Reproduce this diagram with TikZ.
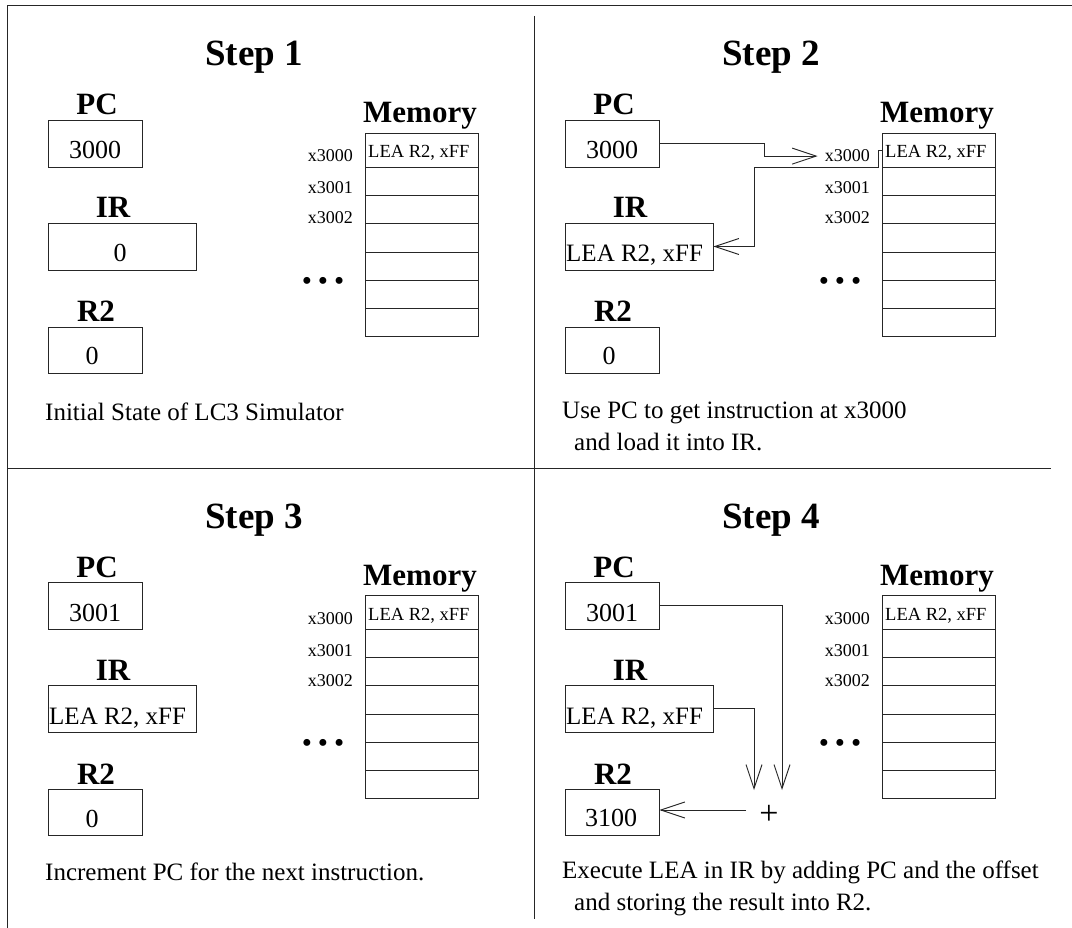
\documentclass[tikz,border=0pt]{standalone}
\usepackage{fontspec}
\setmainfont{Liberation Serif}
\usetikzlibrary{arrows.meta}

\tikzset{
  ln/.style={line width=0.9pt, draw=black!85},
  regbox/.style={ln, rectangle, inner sep=0pt},
  cell/.style={ln, rectangle, inner sep=0pt, minimum width=113pt},
  ttl/.style={inner sep=0pt, anchor=base, font=\fontsize{37}{40}\selectfont\bfseries},
  lbl/.style={inner sep=0pt, anchor=base, font=\fontsize{31}{34}\selectfont\bfseries},
  val/.style={inner sep=0pt, anchor=base, font=\fontsize{26}{30}\selectfont},
  irtxt/.style={inner sep=0pt, anchor=base west, font=\fontsize{25}{30}\selectfont},
  addr/.style={inner sep=0pt, anchor=base east, font=\fontsize{18}{20}\selectfont},
  memtxt/.style={inner sep=0pt, anchor=base west, font=\fontsize{18.5}{20}\selectfont},
  desc/.style={inner sep=0pt, anchor=base west, font=\fontsize{25}{30}\selectfont},
  dotsrow/.style={inner sep=0pt, font=\fontsize{29}{29}\selectfont},
  plussign/.style={inner sep=0pt, anchor=base, font=\fontsize{34}{34}\selectfont},
  arr/.style={ln, -{Straight Barb[length=24pt,width=16pt]}},
}

% Common contents of one step: title, registers and memory column
\newcommand\lcframe[2]{%
  \node[ttl] (#1title) at (254,66) {#2};
  \node[lbl] (#1pcl) at (97,115) {PC};
  \node[regbox, draw, minimum width=94pt, minimum height=47pt] (#1pc) at (95,143.5) {};
  \node[lbl] (#1irl) at (113,218) {IR};
  \node[regbox, draw, minimum width=148pt, minimum height=47pt] (#1ir) at (122,246.5) {};
  \node[lbl] (#1r2l) at (96,322) {R2};
  \node[regbox, draw, minimum width=94pt, minimum height=46pt] (#1r2) at (95,350) {};
  \node[lbl] (#1meml) at (420,123) {Memory};
  \node[cell, draw, minimum height=34pt] (#1m1) at (421.5,150) {};
  \node[cell, draw, minimum height=28pt] (#1m2) at (421.5,181) {};
  \node[cell, draw, minimum height=28pt] (#1m3) at (421.5,209) {};
  \node[cell, draw, minimum height=29pt] (#1m4) at (421.5,237.5) {};
  \node[cell, draw, minimum height=28pt] (#1m5) at (421.5,266) {};
  \node[cell, draw, minimum height=28pt] (#1m6) at (421.5,294) {};
  \node[cell, draw, minimum height=28pt] (#1m7) at (421.5,322) {};
  \node[memtxt] (#1mt) at (368,158) {LEA R2, xFF};
  \node[addr] (#1a0) at (353,162) {x3000};
  \node[addr] (#1a1) at (353,194) {x3001};
  \node[addr] (#1a2) at (353,224) {x3002};
  \node[dotsrow] (#1dots) at (323,284) {•\hspace{6pt}•\hspace{6pt}•};
}

\begin{document}
\begin{tikzpicture}[x=1pt,y=-1pt]
\useasboundingbox (0,0) rectangle (1072,928);
\fill[white] (0,0) rectangle (1072,928);

% outer frame and quadrant dividers
\draw[ln] (1072,5) -- (7,5) -- (7,928);
\draw[ln] (534,16) -- (534,919);
\draw[ln] (7,468) -- (1051,468);

% Step 1
\begin{scope}
  \lcframe{s1}{Step 1}
  \node[val] (s1pcv) at (95,159) {3000};
  \node[val] (s1irv) at (120,262) {0};
  \node[val] (s1r2v) at (92,365) {0};
  \node[desc] (s1d) at (45,420) {Initial State of LC3 Simulator};
\end{scope}

% Step 2
\begin{scope}[shift={(517,0)}]
  \lcframe{s2}{Step 2}
  \node[val] (s2pcv) at (95,159) {3000};
  \node[irtxt] (s2irv) at (49,262) {LEA R2, xFF};
  \node[val] (s2r2v) at (92,365) {0};
  \node[desc] (s2d1) at (45,418) {Use PC to get instruction at x3000};
  \node[desc] (s2d2) at (57,450) {and load it into IR.};
  \draw[arr, shorten >=7pt] (s2pc.east) -- ++(105,0) |- (s2a0.west);
  \draw[arr] (s2m1.west) -- ++(-3,0) -- ++(0,17) -- ++(-124,0) |- (s2ir.east);
\end{scope}

% Step 3
\begin{scope}[shift={(0,462)}]
  \lcframe{s3}{Step 3}
  \node[val] (s3pcv) at (95,159) {3001};
  \node[irtxt] (s3irv) at (49,262) {LEA R2, xFF};
  \node[val] (s3r2v) at (92,365) {0};
  \node[desc] (s3d) at (45,418) {Increment PC for the next instruction.};
\end{scope}

% Step 4
\begin{scope}[shift={(517,462)}]
  \lcframe{s4}{Step 4}
  \node[val] (s4pcv) at (95,159) {3001};
  \node[irtxt] (s4irv) at (49,262) {LEA R2, xFF};
  \node[val] (s4r2v) at (94,364) {3100};
  \node[desc] (s4d1) at (45,416) {Execute LEA in IR by adding PC and the offset};
  \node[desc] (s4d2) at (57,448) {and storing the result into R2.};
  \coordinate (s4ja) at (237,328);
  \coordinate (s4jb) at (265,328);
  \node[plussign] (s4plus) at (252,362) {+};
  \coordinate (s4sum) at (229,348);
  \draw[arr] (s4pc.east) -| (s4jb);
  \draw[arr] (s4ir.east) -| (s4ja);
  \draw[arr] (s4sum) -- (s4r2.east |- s4sum);
\end{scope}
\end{tikzpicture}
\end{document}
